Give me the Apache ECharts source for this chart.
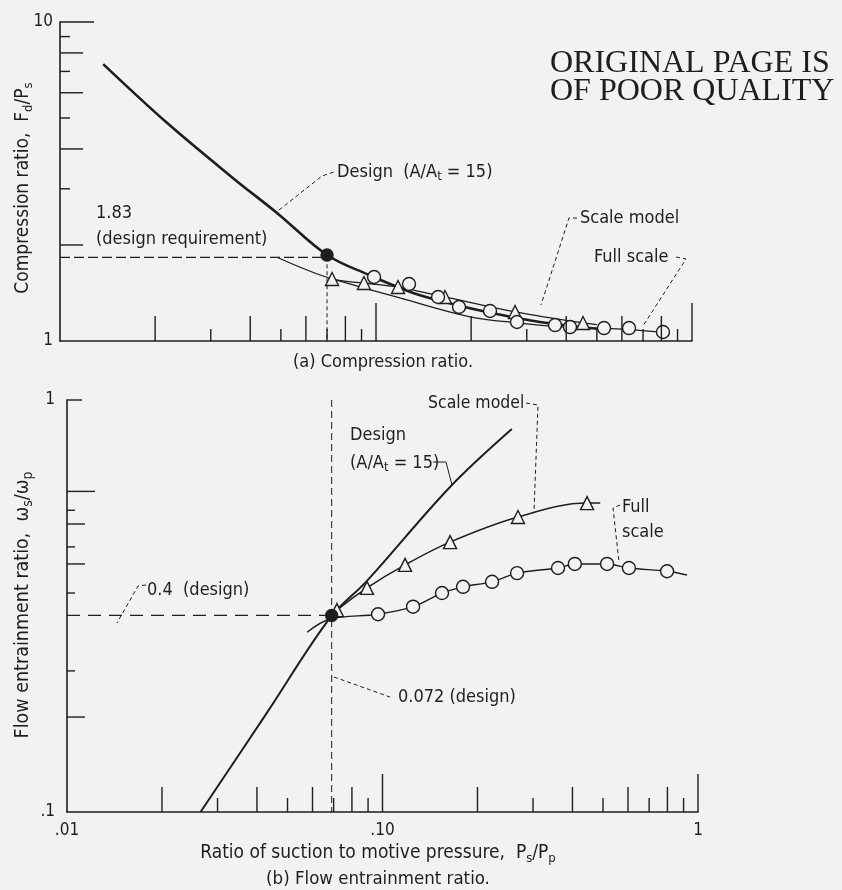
<!DOCTYPE html>
<html>
<head>
<meta charset="utf-8">
<script src="https://cdn.jsdelivr.net/npm/echarts@6/dist/echarts.min.js"></script>
<style>
  html, body { margin: 0; background: #f2f2f0; }
  #chart { width: 842px; height: 890px; }
</style>
</head>
<body>
<div id="chart"></div>
<script>
// panel (a): compression ratio vs P_s/P_p
const designCurveA = [[0.0137, 7.38], [0.0218, 4.83], [0.0353, 3.24], [0.0486, 2.52], [0.07, 1.86], [0.0937, 1.62], [0.131, 1.415], [0.18, 1.297], [0.2245, 1.233], [0.33, 1.147], [0.51, 1.09]];
const scaleCurveA = [[0.0486, 1.83], [0.0726, 1.565], [0.0916, 1.52], [0.1174, 1.476], [0.1653, 1.374], [0.2754, 1.233], [0.452, 1.139], [0.5, 1.125]];
const scalePointsA = [[0.0726, 1.565], [0.0916, 1.52], [0.1174, 1.476], [0.1653, 1.374], [0.2754, 1.233], [0.452, 1.139]];
const fullCurveA = [[0.0726, 1.565], [0.119, 1.364], [0.1985, 1.19], [0.28, 1.14], [0.4, 1.105], [0.6, 1.09], [0.85, 1.06]];
const fullPointsA = [[0.0986, 1.587], [0.1272, 1.509], [0.1572, 1.374], [0.1831, 1.278], [0.2295, 1.242], [0.2794, 1.147], [0.3686, 1.122], [0.4111, 1.106], [0.5266, 1.098], [0.632, 1.098], [0.8094, 1.067]];
const designPointA = [[0.07, 1.86]];
const requirementA = 1.83;
const designRatioA = 0.07;

// panel (b): flow entrainment ratio vs P_s/P_p
const designCurveB = [[0.0265, 0.1], [0.043, 0.174], [0.0682, 0.296], [0.0893, 0.364], [0.1637, 0.615], [0.257, 0.85]];
const scaleCurveB = [[0.0682, 0.296], [0.0717, 0.309], [0.0893, 0.35], [0.1179, 0.398], [0.1637, 0.452], [0.2688, 0.52], [0.445, 0.562], [0.49, 0.562]];
const scalePointsB = [[0.0717, 0.309], [0.0893, 0.35], [0.1179, 0.398], [0.1637, 0.452], [0.2688, 0.52], [0.445, 0.562]];
const fullCurveB = [[0.0577, 0.273], [0.0682, 0.294], [0.0968, 0.302], [0.125, 0.315], [0.1544, 0.34], [0.18, 0.352], [0.2225, 0.362], [0.267, 0.38], [0.36, 0.391], [0.407, 0.4], [0.515, 0.4], [0.604, 0.391], [0.798, 0.384], [0.923, 0.376]];
const fullPointsB = [[0.0968, 0.302], [0.125, 0.315], [0.1544, 0.34], [0.18, 0.352], [0.2225, 0.362], [0.267, 0.38], [0.36, 0.391], [0.407, 0.4], [0.515, 0.4], [0.604, 0.391], [0.798, 0.384]];
const designPointB = [[0.069, 0.3]];
const entrainmentB = 0.3;
const designRatioB = 0.069;

// tick marks (log paper)
const xEvenTicks = [0.02, 0.04, 0.06, 0.08, 0.2, 0.4, 0.6, 0.8];
const xOddTicks = [0.03, 0.05, 0.07, 0.09, 0.3, 0.5, 0.7, 0.9];
const xDecadeTicks = [0.1, 1];
const yEvenTicksA = [2, 4, 6, 8];
const yOddTicksA = [3, 5, 7, 9];
const yDecadeTicksA = [10];
const yLongTicksB = [0.6];
const yMidTicksB = [0.5, 0.4, 0.17];
const yShortTicksB = [0.54, 0.44, 0.34, 0.22];
const yTopTicksB = [1];

const ink = "#1e1e1e";
const paper = "#f2f2f0";
const FONT = "'Liberation Sans Narrow', 'DejaVu Sans Condensed', 'Roboto Condensed', Roboto, sans-serif";
const SERIF = "'Liberation Serif', serif";
const xMin = 0.01;
const yMin = [1, 0.1];

function tickSeries(grid, values, dir, len) {
  return {
    type: "custom",
    xAxisIndex: grid,
    yAxisIndex: grid,
    silent: true,
    z: 5,
    data: values.map((v) => (dir === "x" ? [v, yMin[grid]] : [xMin, v])),
    renderItem: (params, api) => {
      const p = api.coord([api.value(0), api.value(1)]);
      const shape = dir === "x"
        ? { x1: p[0], y1: p[1], x2: p[0], y2: p[1] - len }
        : { x1: p[0], y1: p[1], x2: p[0] + len, y2: p[1] };
      return { type: "line", shape, style: { stroke: ink, lineWidth: 1.4 } };
    },
  };
}

function curve(data, grid, width) {
  return {
    type: "line", data, xAxisIndex: grid, yAxisIndex: grid,
    smooth: 0.35, symbol: "none", silent: true, z: 3,
    lineStyle: { color: ink, width },
  };
}

function dashed(data, grid, dash, width) {
  return {
    type: "line", data, xAxisIndex: grid, yAxisIndex: grid,
    symbol: "none", silent: true, z: 2,
    lineStyle: { color: ink, width, type: dash },
  };
}

function markers(data, grid, symbol, size, filled) {
  return {
    type: "scatter", data, xAxisIndex: grid, yAxisIndex: grid,
    symbol, symbolSize: size, silent: true, z: 4,
    itemStyle: { color: filled ? ink : paper, borderColor: ink, borderWidth: 1.4, opacity: 1 },
  };
}

function subRich(size) {
  return {
    s: { fontSize: Math.round(size * 0.7), fontFamily: FONT, fill: ink, verticalAlign: "bottom", lineHeight: Math.round(size * 0.7) },
  };
}

function label(x, y, text, size, extra) {
  return {
    type: "text", x, y, silent: true, z: 10,
    style: Object.assign({
      text, fill: ink, fontSize: size, fontFamily: FONT,
      align: "left", verticalAlign: "middle", lineHeight: Math.round(size * 1.3), rich: subRich(size),
    }, extra),
  };
}

function leader(points, dash) {
  return {
    type: "polyline", silent: true, z: 9,
    shape: { points },
    style: { stroke: ink, lineWidth: 1, lineDash: dash ? [4, 3] : null, fill: null },
  };
}

function logAxis(grid, min, max, labelOpts) {
  return {
    gridIndex: grid, type: "log", logBase: 10, min, max,
    axisLine: { onZero: false, lineStyle: { color: ink, width: 1.6 } },
    axisTick: { show: false },
    splitLine: { show: false },
    axisLabel: Object.assign({ color: ink, fontSize: 17, fontFamily: FONT }, labelOpts),
  };
}

const decadeExp = (v) => Math.round(Math.log10(v));
const rotated = { rotation: Math.PI / 2 };

const chart = echarts.init(document.getElementById("chart"), null, { renderer: "canvas" });

chart.setOption({
  backgroundColor: paper,
  animation: false,
  grid: [
    { left: 60, top: 22, width: 632, height: 319 },
    { left: 67, top: 400, width: 631, height: 412 },
  ],
  xAxis: [
    logAxis(0, 0.01, 1, { show: false }),
    logAxis(1, 0.01, 1, {
      margin: 10,
      formatter: (v) => ({ "-2": ".01", "-1": ".10", "0": "1" })[decadeExp(v)],
    }),
  ],
  yAxis: [
    logAxis(0, 1, 10, { margin: 7, formatter: (v) => String(Math.round(v)) }),
    logAxis(1, 0.1, 1, { margin: 12, formatter: (v) => (decadeExp(v) === 0 ? "1" : ".1") }),
  ],
  series: [
    // panel (a)
    tickSeries(0, xEvenTicks, "x", 25),
    tickSeries(0, xOddTicks, "x", 12),
    tickSeries(0, xDecadeTicks, "x", 38),
    tickSeries(0, yEvenTicksA, "y", 23),
    tickSeries(0, yOddTicksA, "y", 10),
    tickSeries(0, yDecadeTicksA, "y", 34),
    dashed([[xMin, requirementA], [designRatioA, requirementA]], 0, [10, 4], 1.2),
    dashed([[designRatioA, requirementA], [designRatioA, yMin[0]]], 0, [4, 3], 1),
    curve(designCurveA, 0, 2.6),
    curve(scaleCurveA, 0, 1.3),
    curve(fullCurveA, 0, 1.3),
    markers(scalePointsA, 0, "triangle", 13, false),
    markers(fullPointsA, 0, "circle", 13, false),
    markers(designPointA, 0, "circle", 12, true),
    // panel (b)
    tickSeries(1, xEvenTicks, "x", 25),
    tickSeries(1, xOddTicks, "x", 14),
    tickSeries(1, xDecadeTicks, "x", 38),
    tickSeries(1, yLongTicksB, "y", 28),
    tickSeries(1, yMidTicksB, "y", 18),
    tickSeries(1, yShortTicksB, "y", 8),
    tickSeries(1, yTopTicksB, "y", 15),
    dashed([[xMin, entrainmentB], [designRatioB, entrainmentB]], 1, [13, 8], 1.3),
    dashed([[designRatioB, 1], [designRatioB, yMin[1]]], 1, [7, 4], 1),
    curve(designCurveB, 1, 2),
    curve(scaleCurveB, 1, 1.5),
    curve(fullCurveB, 1, 1.4),
    markers(scalePointsB, 1, "triangle", 13, false),
    markers(fullPointsB, 1, "circle", 13, false),
    markers(designPointB, 1, "circle", 12, true),
  ],
  graphic: [
    // header stamp
    label(550, 64, "ORIGINAL PAGE IS", 32, { fontFamily: SERIF }),
    label(550, 92, "OF POOR QUALITY", 32, { fontFamily: SERIF }),
    // panel (a) texts
    Object.assign(label(23, 188, "Compression ratio,  F{s|d}/P{s|s}", 19, { align: "center" }), rotated),
    label(96, 213, "1.83", 18),
    label(96, 239, "(design requirement)", 18),
    label(337, 172, "Design  (A/A{s|t} = 15)", 18),
    label(580, 218, "Scale model", 18),
    label(594, 257, "Full scale", 18),
    label(383, 362, "(a) Compression ratio.", 18, { align: "center" }),
    leader([[279, 210], [322, 176], [334, 172]], true),
    leader([[577, 218], [569, 218], [541, 305]], true),
    leader([[676, 257], [686, 259], [643, 326]], true),
    // panel (b) texts
    Object.assign(label(23, 605, "Flow entrainment ratio,  ω{s|s}/ω{s|p}", 19.5, { align: "center" }), rotated),
    label(350, 435, "Design", 18),
    label(350, 463, "(A/A{s|t} = 15)", 18),
    label(428, 403, "Scale model", 17.5),
    label(622, 507, "Full", 18),
    label(622, 532, "scale", 18),
    label(147, 590, "0.4  (design)", 18),
    label(398, 697, "0.072 (design)", 18),
    label(378, 853, "Ratio of suction to motive pressure,  P{s|s}/P{s|p}", 19, { align: "center" }),
    label(378, 879, "(b) Flow entrainment ratio.", 18.5, { align: "center" }),
    leader([[433, 462], [446, 462], [452, 485]], false),
    leader([[526, 403], [538, 405], [534, 512]], true),
    leader([[620, 505], [613, 508], [619, 562]], true),
    leader([[146, 585], [138, 586], [117, 623]], true),
    leader([[334, 677], [390, 697]], true),
  ],
});
</script>
</body>
</html>
